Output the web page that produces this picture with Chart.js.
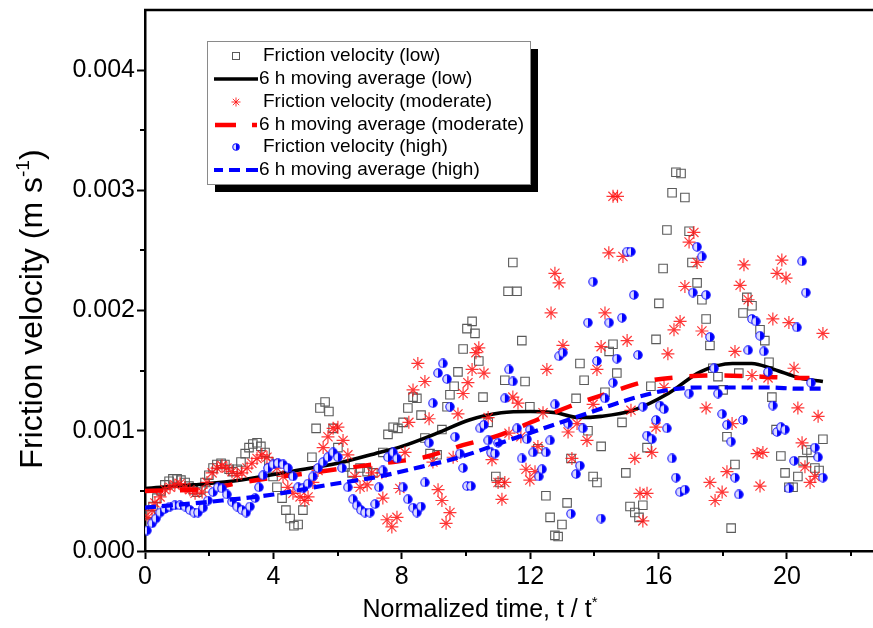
<!DOCTYPE html>
<html><head><meta charset="utf-8">
<script src="https://cdn.jsdelivr.net/npm/chart.js@4.4.1/dist/chart.umd.min.js"></script>
<style>html,body{margin:0;padding:0;background:#fff;}canvas{display:block;}</style>
</head><body>
<canvas id="c" width="873" height="628" style="width:873px;height:628px"></canvas>
<script>
// ---------- DATA (time t/t*, friction velocity in m/s) ----------
const lowT = [
0.06,0.16,0.25,0.37,0.50,0.62,0.75,0.87,1.00,1.12,
1.25,1.37,1.50,1.62,1.74,1.87,1.99,2.12,2.24,2.37,
2.49,2.62,2.74,2.87,2.99,3.12,3.24,3.36,3.49,3.61,
3.74,3.86,3.99,4.11,4.27,4.39,4.52,4.64,4.77,4.92,
5.20,5.33,5.45,5.61,5.73,5.86,6.01,6.23,6.45,6.70,
6.92,7.10,7.41,7.57,7.73,7.88,8.04,8.19,8.35,8.47,
8.60,8.72,8.88,9.10,9.25,9.41,9.50,9.63,9.75,9.91,
10.03,10.19,10.28,10.40,10.53,10.69,10.93,11.06,11.21,11.31,
11.46,11.59,11.74,11.84,11.99,12.24,12.49,12.62,12.77,12.87,
12.99,13.15,13.27,13.43,13.55,13.68,13.80,13.96,14.08,14.21,
14.33,14.46,14.58,14.70,14.86,14.98,15.11,15.26,15.39,15.51,
15.64,15.76,15.92,16.01,16.14,16.26,16.42,16.54,16.70,16.82,
16.95,17.04,17.20,17.35,17.48,17.60,17.69,17.85,18.01,18.13,
18.26,18.38,18.50,18.63,18.75,18.91,19.16,19.31,19.44,19.53,
19.66,19.81,19.94,20.06,20.19,20.34,20.50,20.62,20.75,20.87,
21.00,21.12];
const lowV = [
0.00024,0.0003,0.00037,0.00044,0.0005,0.00055,0.00058,0.0006,0.0006,0.00059,
0.00057,0.00054,0.00051,0.00049,0.00051,0.00057,0.00063,0.00069,0.00072,0.00073,
0.00072,0.00068,0.00066,0.00068,0.00074,0.00081,0.00086,0.00089,0.0009,0.00087,
0.00082,0.00074,0.00062,0.00053,0.00044,0.00034,0.00027,0.00021,0.00022,0.00034,
0.00078,0.00102,0.00119,0.00124,0.00116,0.00102,0.00086,0.0007,0.00065,0.00069,
0.00066,0.00065,0.00082,0.00097,0.00103,0.00102,0.00107,0.00119,0.00128,0.00127,
0.00113,0.00094,0.00081,0.0008,0.00101,0.0012,0.0013,0.00137,0.00149,0.00168,
0.00185,0.00191,0.00181,0.00158,0.00128,0.00107,0.00062,0.00057,0.00142,0.00216,
0.0024,0.00216,0.00175,0.00141,0.0012,0.00085,0.00046,0.00028,0.00013,0.00012,
0.00022,0.0004,0.00077,0.00127,0.00156,0.00142,0.001,0.00062,0.00057,0.00087,
0.00132,0.00166,0.00172,0.00148,0.00107,0.00065,0.00037,0.00032,0.00028,0.00038,
0.00086,0.00137,0.00176,0.00206,0.00235,0.00267,0.00298,0.00315,0.00314,0.00294,
0.00266,0.0024,0.00223,0.00209,0.00193,0.00171,0.00152,0.00145,0.00134,0.00095,
0.00019,0.00072,0.00148,0.00198,0.00211,0.00204,0.00184,0.00175,0.00157,0.00128,
0.00101,0.00079,0.00065,0.00053,0.00053,0.00062,0.00075,0.00084,0.00082,0.00069,
0.00067,0.00093];

const modT = [
0.09,0.22,0.31,0.47,0.62,0.78,0.93,1.09,1.25,1.40,
1.56,1.78,1.93,2.09,2.24,2.40,2.55,2.71,2.87,3.02,
3.18,3.33,3.49,3.64,3.80,3.96,4.11,4.30,4.45,4.61,
4.83,4.98,5.08,5.23,5.39,5.55,5.70,5.86,6.01,6.17,
6.32,6.54,6.70,6.92,7.07,7.38,7.41,7.54,7.69,7.85,
7.94,8.10,8.22,8.35,8.50,8.72,8.85,8.97,9.13,9.25,
9.38,9.50,9.60,9.75,9.91,10.06,10.19,10.31,10.40,10.56,
10.69,10.81,11.00,11.12,11.21,11.34,11.46,11.62,11.71,11.87,
11.99,12.15,12.24,12.40,12.52,12.65,12.77,12.90,13.02,13.18,
13.30,13.46,13.77,13.96,14.08,14.21,14.33,14.45,14.58,14.72,
14.89,15.02,15.14,15.26,15.42,15.51,15.64,15.79,15.92,16.17,
16.29,16.48,16.67,16.82,16.95,17.10,17.20,17.35,17.48,17.60,
17.76,17.98,18.13,18.29,18.38,18.54,18.66,18.79,18.91,19.07,
19.16,19.25,19.41,19.56,19.69,19.84,19.97,20.06,20.22,20.34,
20.47,20.56,20.72,20.87,20.97,21.12];
const modV = [
0.00028,0.00034,0.0004,0.00045,0.00051,0.00053,0.00055,0.00056,0.00053,0.00051,
0.00048,0.00049,0.00057,0.00065,0.00069,0.00071,0.00069,0.00066,0.00063,0.00065,
0.00069,0.00073,0.00077,0.0008,0.00078,0.00073,0.00069,0.00062,0.00053,0.00048,
0.00045,0.00042,0.00045,0.00057,0.00067,0.00086,0.00095,0.00102,0.00103,0.00092,
0.0008,0.00062,0.00053,0.00055,0.00065,0.00065,0.00044,0.00026,0.0002,0.00028,
0.00052,0.00082,0.00107,0.00134,0.00156,0.00141,0.0011,0.00074,0.00051,0.00042,
0.00023,0.00032,0.00078,0.00114,0.00131,0.0014,0.00151,0.00165,0.00169,0.00148,
0.00111,0.00076,0.00057,0.00043,0.00057,0.00098,0.00128,0.00123,0.00095,0.00068,
0.00059,0.00066,0.00087,0.00115,0.00151,0.00198,0.00231,0.00223,0.00171,0.00099,
0.00077,0.00106,0.00092,0.00122,0.00151,0.0017,0.00198,0.00248,0.00295,0.00295,
0.00245,0.00175,0.00117,0.00077,0.00048,0.00025,0.00048,0.00082,0.00103,0.00136,
0.00164,0.00184,0.00191,0.0022,0.00257,0.00265,0.0024,0.00183,0.00119,0.00057,
0.00042,0.00049,0.00066,0.00106,0.00166,0.00221,0.00238,0.00209,0.00146,0.00081,
0.00054,0.00082,0.00144,0.00193,0.00231,0.00242,0.00227,0.0019,0.00152,0.00119,
0.0009,0.0007,0.00057,0.00062,0.00112,0.00181];

const highT = [
0.06,0.22,0.34,0.47,0.62,0.78,0.93,1.09,1.25,1.40,
1.53,1.65,1.81,1.96,2.12,2.27,2.40,2.55,2.71,2.87,
3.02,3.15,3.27,3.43,3.55,3.68,3.83,3.99,4.14,4.30,
4.45,4.61,4.77,4.92,5.08,5.23,5.39,5.55,5.70,5.86,
6.01,6.14,6.32,6.48,6.60,6.73,6.85,7.01,7.17,7.29,
7.41,7.57,7.73,7.85,8.04,8.19,8.35,8.47,8.60,8.72,
8.85,8.97,9.13,9.28,9.41,9.50,9.66,9.81,9.91,10.03,
10.16,10.44,10.56,10.69,10.78,10.90,11.00,11.21,11.34,11.46,
11.59,11.74,11.90,11.99,12.09,12.27,12.37,12.49,12.62,12.77,
12.90,13.02,13.18,13.27,13.43,13.55,13.64,13.80,13.96,14.08,
14.21,14.33,14.46,14.58,14.70,14.86,15.02,15.14,15.23,15.36,
15.51,15.64,15.79,15.92,16.04,16.17,16.26,16.42,16.54,16.67,
16.82,16.95,17.07,17.20,17.35,17.48,17.60,17.73,17.85,17.98,
18.13,18.26,18.38,18.50,18.63,18.79,18.91,19.03,19.16,19.28,
19.41,19.56,19.69,19.81,19.94,20.06,20.22,20.31,20.47,20.59,
20.75,20.87,20.97,21.12];
const highV = [
0.00017,0.00023,0.00027,0.00032,0.00035,0.00037,0.00038,0.00038,0.00037,0.00034,
0.00032,0.00032,0.00036,0.00042,0.00049,0.00053,0.00052,0.00047,0.00041,0.00037,
0.00034,0.00032,0.00037,0.00044,0.00053,0.00063,0.00069,0.00072,0.00073,0.00072,
0.00069,0.00062,0.00053,0.00052,0.00056,0.00062,0.00069,0.00074,0.00078,0.00082,
0.00078,0.00069,0.00053,0.00043,0.00038,0.00034,0.00032,0.00032,0.00039,0.00053,
0.00067,0.00078,0.00082,0.00077,0.00053,0.00043,0.00036,0.00032,0.00037,0.00057,
0.0009,0.00123,0.00148,0.00156,0.00143,0.0012,0.00095,0.00081,0.00069,0.00054,
0.00054,0.00102,0.00105,0.00092,0.00082,0.00081,0.0009,0.00127,0.00151,0.00141,
0.00102,0.00077,0.00093,0.00101,0.00082,0.00062,0.00068,0.00082,0.00092,0.00122,
0.00162,0.00165,0.00106,0.00031,0.00064,0.00071,0.00102,0.0019,0.00224,0.00158,
0.00027,0.00127,0.0019,0.0014,0.0016,0.00194,0.00249,0.00249,0.00213,0.00163,
0.0012,0.00096,0.00093,0.00109,0.00121,0.00118,0.00102,0.00077,0.00061,0.00049,
0.00051,0.00131,0.00215,0.00253,0.00245,0.00213,0.00178,0.00152,0.00131,0.00114,
0.00105,0.00091,0.00061,0.00047,0.00109,0.00167,0.00193,0.00191,0.00179,0.00166,
0.00149,0.00121,0.00099,0.00103,0.00101,0.00052,0.00075,0.00186,0.00241,0.00215,
0.0014,0.00086,0.00078,0.00061];

// 6 h moving averages
const lowAvgT = [0,1.5,3.0,4.5,6.0,7.3,8.0,9.1,10.1,11.1,12.0,12.8,13.5,14.2,15.2,16.3,17.3,18.3,18.9,19.6,20.4,21.12];
const lowAvgV = [0.00052,0.00055,0.00059,0.00066,0.00073,0.00082,0.00087,0.00098,0.00109,0.00115,0.00116,0.00115,0.00111,0.00112,0.00117,0.00131,0.00149,0.00156,0.00156,0.00151,0.00144,0.00141];
const modAvgT = [0,2.0,3.0,5.7,7.4,8.7,9.9,11.0,12.2,13.2,14.4,15.6,16.8,18.0,19.2,20.4,20.7];
const modAvgV = [0.0005,0.00052,0.00057,0.00067,0.00073,0.00078,0.00088,0.00096,0.00109,0.0012,0.00131,0.00141,0.00145,0.00146,0.00145,0.00144,0.00144];
const highAvgT = [0,2.4,4.0,5.7,7.3,8.6,9.8,11.1,12.3,13.4,14.5,15.2,16.3,17.3,18.3,19.4,20.4,21.12];
const highAvgV = [0.00036,0.00042,0.00047,0.00055,0.00062,0.0007,0.00078,0.0009,0.00101,0.00111,0.00121,0.00127,0.00134,0.00136,0.00136,0.00136,0.00135,0.00135];

const xMinorTicks = [2,6,10,14,18,22];
const yMinorTicks = [0.0005,0.0015,0.0025,0.0035];
const legendLabels = ['Friction velocity (low)','6 h moving average (low)','Friction velocity (moderate)','6 h moving average (moderate)','Friction velocity (high)','6 h moving average (high)'];
const yTitleParts = [{t:'Friction velocity (m s'},{t:'-1',sup:true},{t:')'}];
const xTitleParts = [{t:'Normalized time, t / t'},{t:'*',sup:true}];

// ---------- STYLE ----------
const FONT = "'Liberation Sans', Arial, Helvetica, sans-serif";
Chart.defaults.font.family = FONT;
Chart.defaults.color = '#000';

function halfCircle(d){
  const c = document.createElement('canvas'); c.width = d; c.height = d;
  const g = c.getContext('2d'); const r = d/2 - 0.8;
  g.beginPath(); g.arc(d/2,d/2,r,0,Math.PI*2); g.fillStyle='#dcdcff'; g.fill();
  g.beginPath(); g.moveTo(d/2,d/2-r); g.arc(d/2,d/2,r,-Math.PI/2,Math.PI/2); g.closePath(); g.fillStyle='#0000ff'; g.fill();
  g.beginPath(); g.arc(d/2,d/2,r,0,Math.PI*2); g.strokeStyle='#1515ff'; g.lineWidth=1.1; g.stroke();
  return c;
}
const blueMark = halfCircle(10);
const blueMarkSmall = halfCircle(8);

const pts = (T,V) => T.map((t,i)=>({x:t,y:V[i]}));

const SQ = '#5a5a5a', RED = 'rgba(255,20,20,0.85)';

const datasets = [
  {label:legendLabels[0], data:pts(lowT,lowV), showLine:false, pointStyle:'rect', pointRadius:6, borderColor:SQ, backgroundColor:'rgba(0,0,0,0)', pointBorderWidth:1.1, order:6},
  {label:legendLabels[1], data:pts(lowAvgT,lowAvgV), showLine:true, pointRadius:0, borderColor:'#000', borderWidth:3.6, cubicInterpolationMode:'monotone', order:5},
  {label:legendLabels[2], data:pts(modT,modV), showLine:false, pointStyle:'star', pointRadius:6.5, borderColor:RED, backgroundColor:RED, pointBorderWidth:1.2, order:4},
  {label:legendLabels[3], data:pts(modAvgT,modAvgV), showLine:true, pointRadius:0, borderColor:'#ff0000', borderWidth:4.5, borderDash:[18,17], cubicInterpolationMode:'monotone', order:3},
  {label:legendLabels[4], data:pts(highT,highV), showLine:false, pointStyle:blueMark, pointRadius:5, borderColor:'#00f', backgroundColor:'#00f', order:2},
  {label:legendLabels[5], data:pts(highAvgT,highAvgV), showLine:true, pointRadius:0, borderColor:'#0000ff', borderWidth:4.2, borderDash:[11,6], cubicInterpolationMode:'monotone', order:1}
];

function drawRich(ctx, parts, cx, baseY, size){
  let total = 0;
  parts.forEach(p=>{ ctx.font = (p.sup ? size*0.6 : size) + 'px ' + FONT; p.w = ctx.measureText(p.t).width; total += p.w; });
  let xx = cx - total/2;
  ctx.textAlign = 'left'; ctx.textBaseline = 'alphabetic';
  parts.forEach(p=>{ ctx.font = (p.sup ? size*0.6 : size) + 'px ' + FONT; ctx.fillText(p.t, xx, p.sup ? baseY - size*0.42 : baseY); xx += p.w; });
}

const decor = {
  id:'decor',
  afterDraw(chart){
    const {ctx, chartArea:a, scales:{x, y}} = chart;
    ctx.save();
    ctx.strokeStyle = '#000'; ctx.fillStyle = '#000';
    // top frame line
    ctx.lineWidth = 2.5;
    ctx.beginPath(); ctx.moveTo(a.left-1, a.top); ctx.lineTo(a.right, a.top); ctx.stroke();
    // minor ticks
    ctx.lineWidth = 2;
    xMinorTicks.forEach(v=>{ const p = Math.round(x.getPixelForValue(v)); ctx.beginPath(); ctx.moveTo(p, a.bottom); ctx.lineTo(p, a.bottom+5); ctx.stroke(); });
    yMinorTicks.forEach(v=>{ const p = Math.round(y.getPixelForValue(v)); ctx.beginPath(); ctx.moveTo(a.left-5, p); ctx.lineTo(a.left, p); ctx.stroke(); });
    // axis titles
    drawRich(ctx, xTitleParts, 480, 617, 25);
    ctx.save(); ctx.translate(42, 309); ctx.rotate(-Math.PI/2);
    drawRich(ctx, yTitleParts, 0, 0, 32);
    ctx.restore();
    // legend
    const L = 207, T = 41, W = 323, H = 143;
    ctx.fillStyle = '#000'; ctx.fillRect(L+8, T+8, W, H);
    ctx.fillStyle = '#fff'; ctx.fillRect(L, T, W, H);
    ctx.strokeStyle = '#8a8a8a'; ctx.lineWidth = 1; ctx.strokeRect(L+0.5, T+0.5, W, H);
    const rows = [56, 79, 102, 125, 147, 170];
    ctx.font = '19px ' + FONT; ctx.textBaseline = 'middle'; ctx.textAlign = 'left'; ctx.fillStyle = '#000';
    legendLabels.forEach((s,i)=>{ ctx.fillText(s, i%2===0 ? 263 : 259, rows[i]); });
    // markers
    ctx.strokeStyle = SQ; ctx.lineWidth = 1; ctx.strokeRect(232.5, rows[0]-3.5, 7, 7);
    ctx.strokeStyle = '#000'; ctx.lineWidth = 3.6; ctx.beginPath(); ctx.moveTo(214, rows[1]); ctx.lineTo(258, rows[1]); ctx.stroke();
    ctx.strokeStyle = RED; ctx.lineWidth = 1; const sx = 236, sy = rows[2], sr = 4.5;
    ctx.beginPath();
    for (let k=0;k<4;k++){ const an = k*Math.PI/4; ctx.moveTo(sx-Math.cos(an)*sr, sy-Math.sin(an)*sr); ctx.lineTo(sx+Math.cos(an)*sr, sy+Math.sin(an)*sr); }
    ctx.stroke();
    ctx.strokeStyle = '#ff0000'; ctx.lineWidth = 4.5; ctx.beginPath(); ctx.moveTo(215, rows[3]); ctx.lineTo(236, rows[3]); ctx.moveTo(252, rows[3]); ctx.lineTo(257, rows[3]); ctx.stroke();
    ctx.drawImage(blueMarkSmall, 232, rows[4]-4);
    ctx.strokeStyle = '#0000ff'; ctx.lineWidth = 4.2; ctx.beginPath();
    [[214,223],[229,240],[246,258]].forEach(s=>{ ctx.moveTo(s[0], rows[5]); ctx.lineTo(s[1], rows[5]); });
    ctx.stroke();
    ctx.restore();
  }
};

new Chart(document.getElementById('c'), {
  type:'scatter',
  data:{datasets},
  options:{
    responsive:false, animation:false, devicePixelRatio:1,
    layout:{autoPadding:false, padding:{top:10, right:0, left:0, bottom:0}},
    plugins:{legend:{display:false}, tooltip:{enabled:false}},
    scales:{
      x:{type:'linear', min:0, max:22.68,
         ticks:{stepSize:4, includeBounds:false, font:{size:25}, color:'#000', padding:3, maxRotation:0, autoSkip:false, callback:v=>String(v)},
         grid:{drawOnChartArea:false, tickLength:8, tickWidth:2, tickColor:'#000'},
         border:{display:true, color:'#000', width:2.5},
         title:{display:false},
         afterFit:s=>{ s.height = 77; s.paddingLeft = 0; s.paddingRight = 0; }},
      y:{type:'linear', min:0, max:0.0045,
         ticks:{stepSize:0.001, includeBounds:false, font:{size:25}, color:'#000', padding:2, autoSkip:false, callback:v=>Number(v).toFixed(3)},
         grid:{drawOnChartArea:false, tickLength:8, tickWidth:2, tickColor:'#000'},
         border:{display:true, color:'#000', width:2.5},
         title:{display:false},
         afterFit:s=>{ s.width = 145; s.paddingTop = 0; s.paddingBottom = 0; }}
    }
  },
  plugins:[decor]
});
</script>
</body></html>
